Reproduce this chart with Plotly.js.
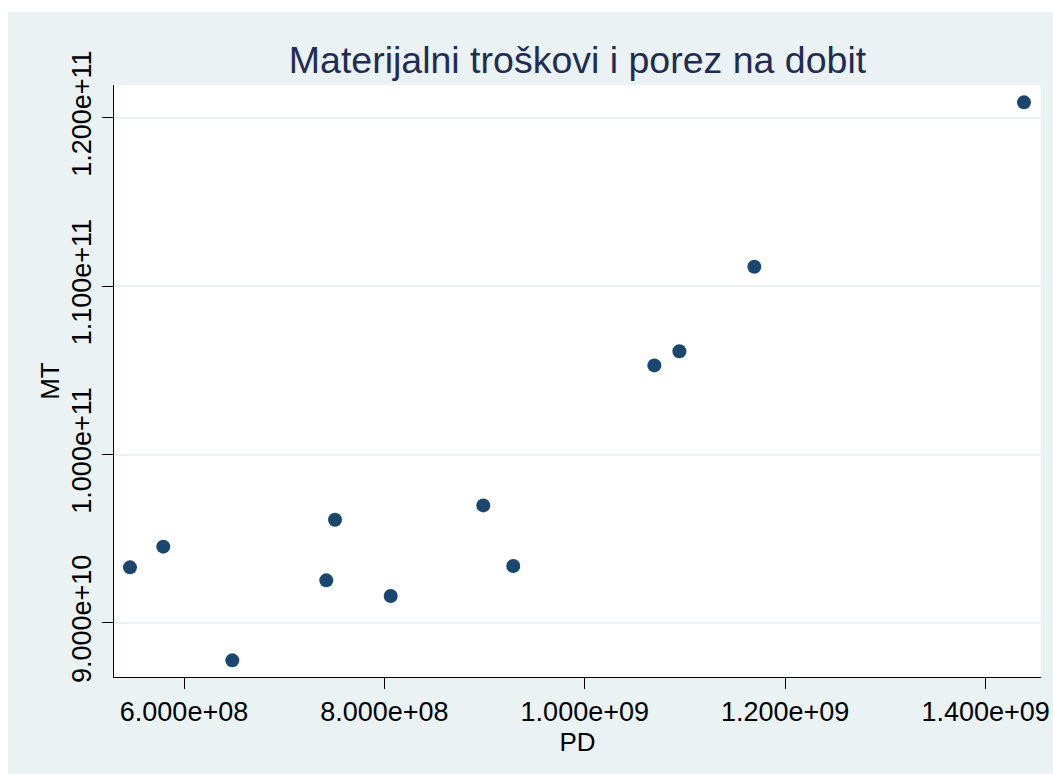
<!DOCTYPE html>
<html>
<head>
<meta charset="utf-8">
<script src="https://cdn.plot.ly/plotly-3.0.1.min.js"></script>
<style>
  html, body { margin: 0; padding: 0; background: #ffffff; }
  #chart { position: absolute; left: 8px; top: 12px; width: 1045px; height: 762px; }
</style>
</head>
<body>
<div id="chart"></div>
<script>
// Data
const PD = [5.461e8, 5.793e8, 6.482e8, 7.42e8, 7.507e8, 8.063e8, 8.987e8, 9.286e8, 1.0694e9, 1.0944e9, 1.1692e9, 1.4383e9];
const MT = [9.330e10, 9.453e10, 8.778e10, 9.253e10, 9.613e10, 9.160e10, 9.698e10, 9.338e10, 1.0529e11, 1.0613e11, 1.1115e11, 1.2091e11];
const xTicks = [6e8, 8e8, 1e9, 1.2e9, 1.4e9];
const xTickText = ["6.000e+08", "8.000e+08", "1.000e+09", "1.200e+09", "1.400e+09"];
const yTicks = [9e10, 1e11, 1.1e11, 1.2e11];
const yTickText = ["9.000e+10", "1.000e+11", "1.100e+11", "1.200e+11"];

const FONT = "Arial, 'Liberation Sans', sans-serif";

const trace = {
  x: PD, y: MT, type: "scatter", mode: "markers",
  marker: { color: "#1a476f", size: 14, line: { width: 0 } },
  hoverinfo: "x+y"
};

const layout = {
  width: 1045, height: 762,
  paper_bgcolor: "#eaf2f3",
  plot_bgcolor: "#ffffff",
  margin: { l: 106, r: 12, t: 73, b: 97, pad: 0 },
  showlegend: false,
  font: { family: FONT, color: "#000000" },
  title: {
    text: "Materijalni troškovi i porez na dobit",
    font: { family: FONT, size: 37.5, color: "#1f2d56" },
    x: 0.5, xref: "paper", xanchor: "center",
    y: 0.937, yref: "container", yanchor: "middle"
  },
  xaxis: {
    range: [5.3014e8, 1.4553e9],
    tickmode: "array", tickvals: xTicks, ticktext: xTickText,
    ticks: "outside", ticklen: 11, tickwidth: 1, tickcolor: "#000000",
    showline: true, linecolor: "#000000", linewidth: 1,
    showgrid: false, zeroline: false,
    tickfont: { family: FONT, size: 27, color: "#000000" },
    title: { text: "PD", font: { family: FONT, size: 26, color: "#000000" }, standoff: 0 }
  },
  yaxis: {
    range: [8.679e10, 1.2194e11],
    tickmode: "array", tickvals: yTicks, ticktext: yTickText,
    tickangle: -90,
    ticks: "outside", ticklen: 11, tickwidth: 1, tickcolor: "#000000",
    showline: true, linecolor: "#000000", linewidth: 1,
    showgrid: true, gridcolor: "#eaf2f3", gridwidth: 2,
    zeroline: false,
    tickfont: { family: FONT, size: 27, color: "#000000" },
    title: { text: "MT", font: { family: FONT, size: 26, color: "#000000" }, standoff: 0 }
  }
};

Plotly.newPlot("chart", [trace], layout, { displayModeBar: false, staticPlot: true });
</script>
</body>
</html>
